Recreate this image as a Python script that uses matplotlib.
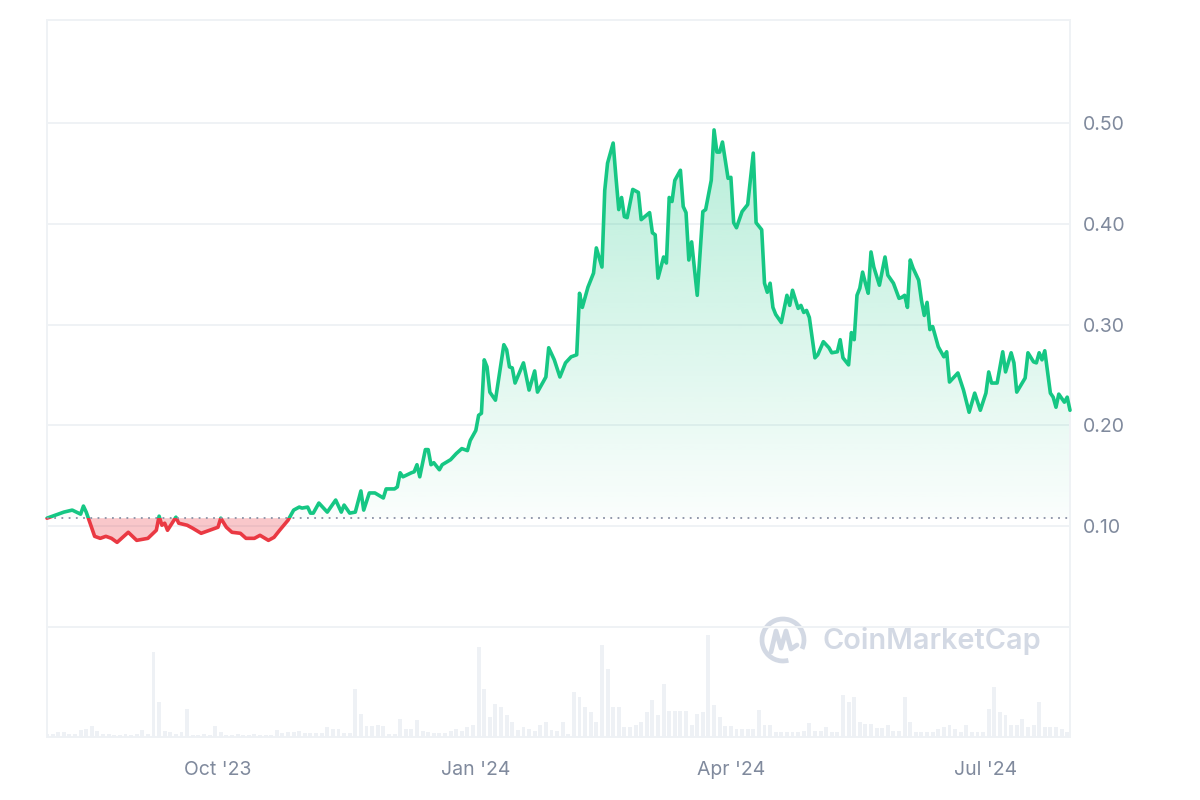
import numpy as np
import matplotlib
matplotlib.use("Agg")
import matplotlib.pyplot as plt
import matplotlib.dates as mdates
from matplotlib.path import Path
from matplotlib.patches import Arc, Rectangle
from matplotlib.colors import to_rgb
from matplotlib.lines import Line2D
import pandas as pd

# ---------------- data ----------------
start_date = "2023-08-01"
end_day = 365

price_days = [0, 6, 9, 12, 13, 14, 15, 17, 19, 21, 23, 25, 29, 32, 36, 39, 40, 41, 42, 43,
              46, 47, 50, 52, 55, 58, 61, 62, 64, 66, 69, 71, 74, 76, 79, 81, 83, 86, 88, 90,
              91, 93, 94, 95, 97, 100, 103, 105, 106, 108, 110, 112, 113, 115, 117, 120, 121, 124, 125, 126,
              127, 130, 131, 132, 133, 135, 136, 137, 138, 140, 141, 144, 146, 148, 150, 151, 153, 154, 155, 156,
              157, 158, 160, 163, 164, 165, 166, 167, 170, 172, 174, 175, 178, 179, 181, 183, 185, 187, 189, 190,
              191, 193, 195, 196, 198, 199, 200, 202, 203, 204, 205, 206, 207, 209, 211, 212, 215, 216, 217, 218,
              220, 221, 222, 223, 224, 226, 227, 228, 229, 230, 232, 234, 235, 237, 238, 239, 240, 241, 243, 244,
              245, 246, 248, 250, 252, 253, 255, 256, 257, 258, 259, 260, 262, 264, 265, 266, 268, 269, 270, 271,
              272, 274, 275, 277, 279, 280, 282, 283, 284, 286, 287, 288, 289, 290, 291, 292, 293, 294, 295, 297,
              299, 300, 302, 304, 305, 306, 307, 308, 309, 311, 312, 313, 314, 315, 316, 318, 320, 321, 322, 325,
              327, 329, 331, 333, 335, 336, 337, 339, 341, 342, 344, 345, 346, 349, 350, 352, 353, 354, 355, 356,
              358, 359, 360, 361, 363, 364, 365]

prices = [0.108, 0.114, 0.116, 0.112, 0.120, 0.114, 0.106, 0.090, 0.088, 0.090, 0.088, 0.084, 0.094, 0.086, 0.088, 0.096, 0.110, 0.101, 0.103, 0.096,
          0.109, 0.103, 0.101, 0.098, 0.093, 0.096, 0.099, 0.108, 0.099, 0.094, 0.093, 0.088, 0.088, 0.091, 0.086, 0.089, 0.096, 0.106, 0.116, 0.119,
          0.118, 0.119, 0.113, 0.113, 0.123, 0.114, 0.126, 0.114, 0.121, 0.113, 0.114, 0.135, 0.116, 0.133, 0.133, 0.128, 0.137, 0.137, 0.139, 0.153,
          0.149, 0.153, 0.154, 0.161, 0.149, 0.176, 0.176, 0.161, 0.163, 0.156, 0.161, 0.166, 0.172, 0.177, 0.175, 0.185, 0.195, 0.210, 0.212, 0.265,
          0.258, 0.233, 0.225, 0.280, 0.275, 0.258, 0.257, 0.242, 0.262, 0.235, 0.254, 0.233, 0.248, 0.277, 0.265, 0.248, 0.262, 0.268, 0.270, 0.331,
          0.317, 0.337, 0.351, 0.376, 0.357, 0.433, 0.460, 0.480, 0.446, 0.414, 0.426, 0.407, 0.406, 0.434, 0.431, 0.404, 0.411, 0.391, 0.389, 0.346,
          0.367, 0.361, 0.426, 0.422, 0.443, 0.453, 0.417, 0.411, 0.364, 0.382, 0.329, 0.412, 0.414, 0.443, 0.493, 0.471, 0.471, 0.481, 0.445, 0.446,
          0.401, 0.396, 0.412, 0.419, 0.470, 0.401, 0.394, 0.341, 0.332, 0.341, 0.317, 0.310, 0.302, 0.329, 0.319, 0.334, 0.316, 0.319, 0.312, 0.314,
          0.307, 0.267, 0.270, 0.283, 0.277, 0.272, 0.273, 0.285, 0.267, 0.260, 0.292, 0.285, 0.329, 0.336, 0.352, 0.341, 0.331, 0.372, 0.357, 0.339,
          0.367, 0.349, 0.341, 0.326, 0.327, 0.329, 0.317, 0.364, 0.356, 0.344, 0.324, 0.309, 0.322, 0.295, 0.298, 0.278, 0.268, 0.273, 0.243, 0.252,
          0.235, 0.213, 0.232, 0.215, 0.232, 0.253, 0.242, 0.242, 0.273, 0.253, 0.272, 0.262, 0.233, 0.247, 0.272, 0.263, 0.262, 0.272, 0.265, 0.274,
          0.232, 0.228, 0.218, 0.231, 0.223, 0.228, 0.215]

base_price = 0.108

volume_step_days = 2
volumes = [3, 3, 5, 5, 3, 3, 7, 8, 11, 6, 3, 3, 2, 2, 3, 2, 3, 7, 3, 85,
           35, 6, 5, 3, 5, 28, 2, 2, 3, 2, 11, 5, 2, 2, 3, 2, 2, 3, 2, 2,
           2, 7, 4, 5, 5, 6, 4, 4, 4, 4, 10, 8, 8, 4, 4, 48, 23, 11, 11, 12,
           11, 3, 3, 18, 8, 8, 17, 6, 5, 4, 4, 4, 6, 8, 6, 10, 12, 90, 48, 20,
           33, 30, 22, 15, 7, 10, 8, 6, 12, 15, 7, 6, 15, 3, 45, 40, 30, 25, 15, 92,
           68, 30, 30, 10, 10, 12, 15, 25, 37, 22, 53, 26, 26, 26, 26, 12, 23, 25, 102, 32,
           20, 11, 11, 8, 8, 8, 8, 27, 12, 12, 5, 5, 5, 5, 5, 6, 14, 6, 6, 10,
           5, 5, 42, 35, 40, 15, 13, 13, 9, 9, 12, 6, 6, 40, 15, 5, 5, 5, 5, 8,
           10, 12, 8, 5, 12, 5, 5, 5, 28, 50, 25, 22, 12, 12, 18, 10, 12, 35, 10, 10,
           10, 8, 5]

y_ticks = [0.10, 0.20, 0.30, 0.40, 0.50]
y_tick_labels = ["0.10", "0.20", "0.30", "0.40", "0.50"]
grid_levels = [0.0, 0.10, 0.20, 0.30, 0.40, 0.50]
x_tick_dates = ["2023-10-01", "2024-01-01", "2024-04-01", "2024-07-01"]
x_tick_labels = ["Oct '23", "Jan '24", "Apr '24", "Jul '24"]
watermark = "CoinMarketCap"

assert len(price_days) == len(prices)

# ---------------- styles ----------------
GREEN = "#16c784"
RED = "#ea3943"
GRID = "#eff2f5"
TICK = "#808a9d"
VOL = "#eef1f5"
WM = "#d3d9e4"
FONT = ["Inter", "DejaVu Sans"]
plt.rcParams["font.family"] = FONT

start = pd.Timestamp(start_date)
x = mdates.date2num((start + pd.to_timedelta(price_days, unit="D")).to_pydatetime())
p = np.array(prices)
x0 = mdates.date2num(start.to_pydatetime())
x1 = mdates.date2num((start + pd.Timedelta(days=end_day)).to_pydatetime())
vol_x = x0 + np.arange(len(volumes)) * volume_step_days

fig = plt.figure(figsize=(12, 8), dpi=100)
fig.patch.set_facecolor("white")
ax = fig.add_axes([47 / 1200, 63 / 800, 1023 / 1200, 717 / 800])
ax2 = ax.twinx()
ax.set_zorder(ax2.get_zorder() + 1)
ax.patch.set_visible(False)

# volume bars
ax2.bar(vol_x, volumes, width=volume_step_days * 0.7, color=VOL, linewidth=0, align="center")
ax2.set_ylim(0, max(volumes) * 7.0)
ax2.set_yticks([])
for s in ax2.spines.values():
    s.set_visible(False)

ymin, ymax = -0.109, 0.602
ax.set_xlim(x0, x1)
ax.set_ylim(ymin, ymax)

# grid
for g in grid_levels:
    ax.axhline(g, color=GRID, lw=1.4, zorder=0)

# gradient fill (green, above base)
top = p.max()
n = 256
grad = np.linspace(0, 1, n).reshape(-1, 1)
rgba = np.zeros((n, 1, 4))
rgba[..., :3] = to_rgb(GREEN)
rgba[..., 3] = (0.02 + 0.29 * grad)
im = ax.imshow(rgba, extent=[x0, x1, base_price, top], origin="lower", aspect="auto",
               interpolation="bilinear", zorder=1)
poly = ax.fill_between(x, p, base_price, color="none", linewidth=0)
im.set_clip_path(Path.make_compound_path(*poly.get_paths()), ax.transData)

# red fill below base
ax.fill_between(x, p, base_price, where=p < base_price, interpolate=True,
                color=RED, alpha=0.28, linewidth=0, zorder=1)

# price line split by base
g_line, = ax.plot(x, p, color=GREEN, lw=2.6, zorder=4, solid_joinstyle="round", solid_capstyle="round")
r_line, = ax.plot(x, p, color=RED, lw=2.6, zorder=4, solid_joinstyle="round", solid_capstyle="round")
clip_up = Rectangle((x0 - 10, base_price), (x1 - x0) + 20, 1.0, transform=ax.transData)
clip_dn = Rectangle((x0 - 10, base_price - 1.0), (x1 - x0) + 20, 1.0, transform=ax.transData)
g_line.set_clip_path(clip_up)
r_line.set_clip_path(clip_dn)

# base dotted line
ax.axhline(base_price, color="#8a91a5", lw=1.3, ls=(0, (1, 3)), zorder=5)

# axes styling
ax.yaxis.tick_right()
ax.set_yticks(y_ticks)
ax.set_yticklabels(y_tick_labels)
ax.set_xticks(mdates.date2num(pd.to_datetime(x_tick_dates).to_pydatetime()))
ax.set_xticklabels(x_tick_labels)
ax.tick_params(axis="y", length=0, pad=9.5, labelsize=14, labelcolor=TICK)
ax.tick_params(axis="x", length=0, pad=17, labelsize=14, labelcolor=TICK)
for s in ax.spines.values():
    s.set_color(GRID)
    s.set_linewidth(1.4)

# watermark
fig.text(822 / 1200, 1 - 641 / 800, watermark, fontsize=20.8, fontweight="semibold",
         color=WM, ha="left", va="center", family=FONT)
fx = lambda px: px / 1200
fy = lambda py: 1 - py / 800
arc = Arc((fx(783), fy(640)), 2 * 21 / 1200, 2 * 21 / 800, theta1=-35, theta2=280,
          transform=fig.transFigure, color=WM, lw=3.4)
fig.add_artist(arc)
mx = [771, 776, 781, 786, 791, 797]
my = [652, 631, 648, 631, 649, 645]
fig.add_artist(Line2D([fx(v) for v in mx], [fy(v) for v in my], transform=fig.transFigure,
                      color=WM, lw=3.4, solid_joinstyle="round", solid_capstyle="round"))

fig.savefig("out.png", dpi=100, facecolor="white")
